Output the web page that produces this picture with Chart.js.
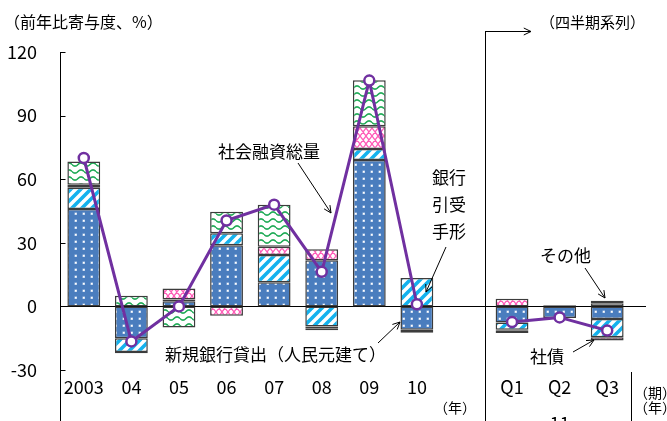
<!DOCTYPE html>
<html>
<head>
<meta charset="utf-8">
<script src="https://cdn.jsdelivr.net/npm/chart.js@4"></script>
<style>
  html, body { margin: 0; padding: 0; background: #fff; }
  #c { display: block; }
</style>
</head>
<body>
<canvas id="c" width="667" height="421"></canvas>
<script>
// Categories: annual 2003-2010, an empty spacer slot, then 2011 quarters
const categories = ['2003', '04', '05', '06', '07', '08', '09', '10', '', 'Q1', 'Q2', 'Q3'];

// Contributions to y/y growth (percentage points)
const bankLoans      = [46, -15, 2.4, 28.8, 11.4, 21.8, 69.1, -11, null, -7.6, -5.5, -6];   // 新規銀行貸出（人民元建て）
const bankBills      = [10, -6.5, null, 5.7, 12.8, -9.5, 5.2, 13.4, null, -3.4, null, -8.6]; // 銀行引受手形
const corpBonds      = [1.4, -0.6, 0.8, null, null, -0.8, null, -0.6, null, -0.5, 0.5, 1.5]; // 社債
const otherLoans     = [null, null, 5.2, -4.4, 3.9, 5.1, 10.7, -0.8, null, 3.6, null, -1.5]; // 外貨建て等
const others         = [11, 5, -10, 10.1, 19.8, -1.0, 21.7, null, null, -1.0, null, 1.2];   // その他
const totalFinancing = [70, -16.5, 0, 40.5, 48, 16.3, 106.5, 1, null, -7.4, -5.2, -11.4];   // 社会融資総量

const yTicks = [-30, 0, 30, 60, 90, 120];

const numFont = "'Liberation Sans Narrow', 'Arial Narrow', 'Noto Sans CJK JP', sans-serif";
const jpFont = "'Noto Sans CJK JP', sans-serif";

const canvas = document.getElementById('c');
const mainCtx = canvas.getContext('2d');

function makePattern(w, h, draw) {
  const c = document.createElement('canvas');
  c.width = w; c.height = h;
  const g = c.getContext('2d');
  draw(g, w, h);
  return mainCtx.createPattern(c, 'repeat');
}

// Blue with white dots
const dotFill = makePattern(8, 7, (g, w, h) => {
  g.fillStyle = '#4A7DBE'; g.fillRect(0, 0, w, h);
  g.fillStyle = 'rgba(190,210,235,0.9)'; g.fillRect(2.5, 2.5, 2.5, 2.5);
  g.fillStyle = '#ffffff'; g.fillRect(3, 3, 1.5, 1.5);
});

// Cyan diagonal stripes
const stripeFill = makePattern(10, 10, (g, w, h) => {
  g.fillStyle = '#fff'; g.fillRect(0, 0, w, h);
  g.strokeStyle = '#14B2EE'; g.lineWidth = 3.6;
  g.beginPath();
  for (const o of [-10, 0, 10]) { g.moveTo(o - 1, 11); g.lineTo(o + 11, -1); }
  g.stroke();
});

// Green wavy lines
const waveFill = makePattern(12, 7, (g, w, h) => {
  g.fillStyle = '#fff'; g.fillRect(0, 0, w, h);
  g.strokeStyle = '#1EAA55'; g.lineWidth = 1.6;
  g.beginPath();
  for (let x = 0; x <= w; x += 0.5) {
    const y = 3.5 + 1.6 * Math.sin(2 * Math.PI * x / w);
    if (x === 0) g.moveTo(x, y); else g.lineTo(x, y);
  }
  g.stroke();
});

// Pink zigzag hatch
const hatchFill = makePattern(12, 8, (g, w, h) => {
  g.fillStyle = '#fff'; g.fillRect(0, 0, w, h);
  g.strokeStyle = '#FF5CB8'; g.lineWidth = 1.3;
  g.beginPath();
  g.moveTo(0, h); g.lineTo(w / 2, 0); g.lineTo(w, h);
  g.moveTo(0, 0); g.lineTo(w / 2, h); g.lineTo(w, 0);
  g.stroke();
});

const barBase = {
  type: 'bar',
  stack: 'flows',
  borderColor: '#3c3c3c',
  borderWidth: 1.5,
  borderSkipped: false,
  categoryPercentage: 1,
  barPercentage: 0.69,
  order: 1
};

function arrow(ctx, x1, y1, x2, y2) {
  const a = Math.atan2(y2 - y1, x2 - x1), L = 8, s = 0.45;
  ctx.beginPath();
  ctx.moveTo(x1, y1); ctx.lineTo(x2, y2);
  ctx.moveTo(x2 - L * Math.cos(a - s), y2 - L * Math.sin(a - s));
  ctx.lineTo(x2, y2);
  ctx.lineTo(x2 - L * Math.cos(a + s), y2 - L * Math.sin(a + s));
  ctx.stroke();
}

const frame = {
  id: 'frame',
  beforeDatasetsDraw(chart) {
    const { ctx, chartArea: a, scales: { y } } = chart;
    ctx.save();
    ctx.strokeStyle = '#000'; ctx.lineWidth = 1;
    const y0 = Math.round(y.getPixelForValue(0)) + 0.5;
    ctx.beginPath(); ctx.moveTo(a.left, y0); ctx.lineTo(646, y0); ctx.stroke();
    ctx.restore();
  },
  afterDraw(chart) {
    const { ctx, chartArea: a, scales: { x, y } } = chart;
    const H = chart.height;
    ctx.save();
    ctx.strokeStyle = '#000'; ctx.lineWidth = 1;

    // value axis with inward ticks, extended down through the label band
    const ax = Math.round(a.left) + 0.5;
    ctx.beginPath(); ctx.moveTo(ax, Math.round(a.top)); ctx.lineTo(ax, H); ctx.stroke();
    yTicks.forEach(v => {
      const py = Math.round(y.getPixelForValue(v)) + 0.5;
      ctx.beginPath(); ctx.moveTo(ax, py); ctx.lineTo(ax + 5, py); ctx.stroke();
    });

    // divider between annual and quarterly series
    const sep = Math.round((x.getPixelForValue(8) + x.getPixelForValue(9)) / 2) - 3 + 0.5;
    ctx.beginPath(); ctx.moveTo(sep, 31); ctx.lineTo(sep, H); ctx.stroke();
    arrow(ctx, sep, 31.5, 531, 31.5);

    // right edge of the quarter labels
    const rx = Math.round(a.right) + 0.5;
    ctx.beginPath(); ctx.moveTo(rx, a.bottom + 2); ctx.lineTo(rx, H); ctx.stroke();

    // annotation arrows
    ctx.lineWidth = 1;
    arrow(ctx, 298, 163, 331, 213);
    arrow(ctx, 446, 247, 426, 292);
    arrow(ctx, 378, 343, 400, 322);
    arrow(ctx, 585, 268, 605, 298);
    arrow(ctx, 573, 352, 594, 340);

    // texts
    ctx.fillStyle = '#000';
    ctx.textBaseline = 'middle';
    ctx.textAlign = 'left';
    ctx.font = `16px ${jpFont}`;
    ctx.fillText('（前年比寄与度、%）', 4, 22);
    ctx.font = `15px ${jpFont}`;
    ctx.fillText('（四半期系列）', 540, 22);

    ctx.font = `17px ${jpFont}`;
    ctx.fillText('社会融資総量', 218, 152);
    ctx.fillText('銀行', 432, 178);
    ctx.fillText('引受', 432, 205);
    ctx.fillText('手形', 432, 232);
    ctx.fillText('新規銀行貸出（人民元建て）', 165, 355);
    ctx.fillText('その他', 540, 256);
    ctx.fillText('社債', 530, 357);

    ctx.font = `14px ${jpFont}`;
    ctx.textAlign = 'center';
    ctx.fillText('（年）', 455, 408);
    ctx.textAlign = 'left';
    ctx.fillText('（期）', 634, 393);
    ctx.fillText('（年）', 634, 408);

    ctx.font = `18px ${numFont}`;
    ctx.textAlign = 'center';
    ctx.textBaseline = 'top';
    ctx.fillText('11', x.getPixelForValue(10), 414);
    ctx.restore();
  }
};

new Chart(canvas, {
  data: {
    labels: categories,
    datasets: [
      { type: 'line', label: '社会融資総量', data: totalFinancing, stack: 'total',
        borderColor: '#7030A0', borderWidth: 3, tension: 0, spanGaps: false,
        pointRadius: 5, pointBorderWidth: 2.5, pointBackgroundColor: '#fff',
        pointBorderColor: '#7030A0', order: 0 },
      { ...barBase, label: '新規銀行貸出（人民元建て）', data: bankLoans, backgroundColor: dotFill },
      { ...barBase, label: '銀行引受手形', data: bankBills, backgroundColor: stripeFill },
      { ...barBase, label: '社債', data: corpBonds, backgroundColor: '#ffffff' },
      { ...barBase, label: '外貨建て等', data: otherLoans, backgroundColor: hatchFill },
      { ...barBase, label: 'その他', data: others, backgroundColor: waveFill }
    ]
  },
  options: {
    responsive: false,
    animation: false,
    devicePixelRatio: 1,
    layout: { padding: { top: 52, right: 36, bottom: 0, left: 0 } },
    plugins: { legend: { display: false }, tooltip: { enabled: false } },
    scales: {
      x: {
        stacked: true,
        grid: { display: false, drawTicks: false },
        border: { display: false },
        ticks: { color: '#000', font: { family: numFont, size: 18 }, padding: 6,
                 maxRotation: 0, autoSkip: false },
        afterFit(s) { s.height = 51; }
      },
      y: {
        stacked: true,
        min: -30, max: 120,
        grid: { display: false, drawTicks: false },
        border: { display: false },
        afterBuildTicks(s) { s.ticks = yTicks.map(v => ({ value: v })); },
        ticks: { color: '#000', font: { family: numFont, size: 18 }, padding: 23 },
        afterFit(s) { s.width = 60; }
      }
    }
  },
  plugins: [frame]
});
</script>
</body>
</html>
